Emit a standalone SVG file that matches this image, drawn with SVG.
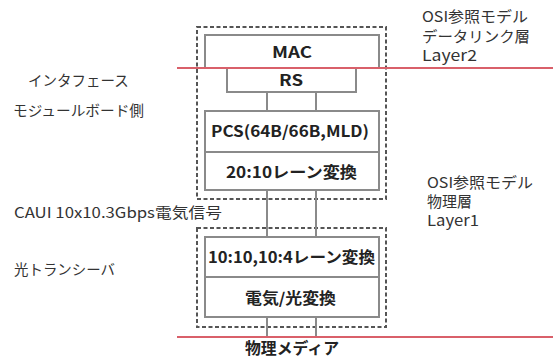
<svg xmlns="http://www.w3.org/2000/svg" width="553" height="359" viewBox="0 0 553 359">
<style>
.dash{fill:none;stroke:#555;stroke-width:2;stroke-dasharray:4 2.5}
.box{fill:#fff;stroke:#8a8a8a;stroke-width:2}
.conn{stroke:#8a8a8a;stroke-width:2;fill:none}
.red{stroke:#d9606a;stroke-width:2.2}
.bl{font-family:"Noto Sans CJK JP","Noto Sans",sans-serif;font-weight:bold;font-size:15.5px;fill:#222}
.lb{font-family:"Noto Sans CJK JP","Noto Sans",sans-serif;font-size:14.5px;fill:#333}
.rb{font-family:"Noto Sans CJK JP","Noto Sans",sans-serif;font-size:15px;fill:#333}
</style>
<rect width="553" height="359" fill="#fff"/>
<g id="upper-module">
<rect class="dash" x="197" y="27" width="189" height="172"/>
</g>
<g id="lower-module">
<rect class="dash" x="197" y="228" width="189" height="99"/>
</g>
<g id="connectors">
<line class="conn" x1="267" y1="92" x2="267" y2="111"/>
<line class="conn" x1="316" y1="92" x2="316" y2="111"/>
<line class="conn" x1="267" y1="190" x2="267" y2="237"/>
<line class="conn" x1="316" y1="190" x2="316" y2="237"/>
<line class="conn" x1="267" y1="317" x2="267" y2="337"/>
<line class="conn" x1="316" y1="317" x2="316" y2="337"/>
</g>
<g id="mac"><rect class="box" x="205" y="35" width="174" height="33"/><text class="bl" x="272" y="58" textLength="40" lengthAdjust="spacingAndGlyphs">MAC</text></g>
<g id="rs"><rect class="box" x="227" y="68" width="129" height="24"/><text class="bl" x="279" y="86" textLength="24" lengthAdjust="spacingAndGlyphs">RS</text></g>
<g id="pcs"><rect class="box" x="205" y="111" width="174" height="41"/><text class="bl" x="211" y="137" textLength="158" lengthAdjust="spacingAndGlyphs">PCS(64B/66B,MLD)</text></g>
<g id="lane20"><rect class="box" x="205" y="152" width="174" height="38"/><text class="bl" x="226" y="178" textLength="131" lengthAdjust="spacingAndGlyphs">20:10レーン変換</text></g>
<g id="lane10"><rect class="box" x="205" y="237" width="174" height="40"/><text class="bl" x="208" y="263" textLength="167" lengthAdjust="spacingAndGlyphs">10:10,10:4レーン変換</text></g>
<g id="eo"><rect class="box" x="205" y="277" width="174" height="40"/><text class="bl" x="245" y="304" textLength="91" lengthAdjust="spacingAndGlyphs">電気/光変換</text></g>
<g id="layer-lines">
<line class="red" x1="177" y1="68" x2="553" y2="68"/>
<line class="red" x1="177" y1="337" x2="553" y2="337"/>
</g>
<g id="labels">
<text class="lb" x="28" y="86">インタフェース</text>
<text class="lb" x="13" y="116" textLength="131" lengthAdjust="spacingAndGlyphs">モジュールボード側</text>
<text class="lb" x="14" y="218" textLength="208" lengthAdjust="spacingAndGlyphs">CAUI 10x10.3Gbps電気信号</text>
<text class="lb" x="14" y="275" textLength="101" lengthAdjust="spacingAndGlyphs">光トランシーバ</text>
<text class="rb" x="422" y="22" textLength="106" lengthAdjust="spacingAndGlyphs">OSI参照モデル</text>
<text class="rb" x="422" y="42" textLength="108" lengthAdjust="spacingAndGlyphs">データリンク層</text>
<text class="rb" x="422" y="61" textLength="55" lengthAdjust="spacingAndGlyphs">Layer2</text>
<text class="rb" x="427" y="188" textLength="106" lengthAdjust="spacingAndGlyphs">OSI参照モデル</text>
<text class="rb" x="427" y="207">物理層</text>
<text class="rb" x="427" y="226" textLength="52" lengthAdjust="spacingAndGlyphs">Layer1</text>
<text class="bl" x="245" y="354" textLength="94" lengthAdjust="spacingAndGlyphs">物理メディア</text>
</g>
</svg>
